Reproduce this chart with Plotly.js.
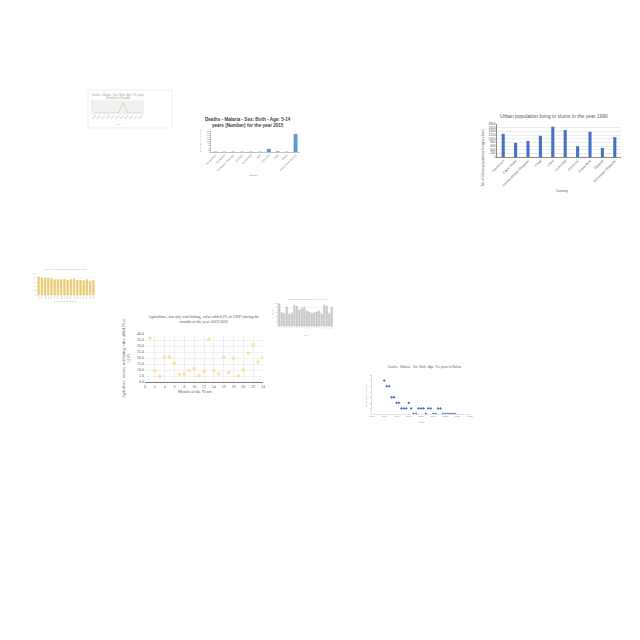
<!DOCTYPE html>
<html><head><meta charset="utf-8">
<script src="https://cdn.plot.ly/plotly-3.0.1.min.js"></script>
<style>html,body{margin:0;padding:0;background:#fff}#chart{width:640px;height:640px}</style>
</head><body><div id="chart"></div>
<script>
// ---- Chart A: small line chart (top-left)
const aYears = ['2008','2009','2010','2011','2012','2013','2014','2015','2016','2017','2018'];
const aDeaths = [0,0,0,0,0,0,4,0,0,0,0];
// ---- Chart B: Deaths - Malaria 5-14 years 2015
const bCountries = ['Bangladesh','Cambodia','Dominican Republic','Ecuador','Guatemala','Haiti','Indonesia','Laos','Nepal','Papua New Guinea'];
const bDeaths = [40, 15, 5, 2, 10, 30, 2800, 350, 20, 17000];
// ---- Chart C: Urban population living in slums 1990
const cCountries = ['Cameroon','Cape Verde','Central African Republic','Chad','Chile','Colombia','Comoros','Costa Rica','Djibouti','Dominican Republic'];
const cSlums = [1266, 771, 880, 1156, 1651, 1470, 589, 1376, 495, 1084];
// ---- Chart D: yellow bars (left)
const dYears = ['2001','2002','2003','2004','2005','2006','2007','2008','2009','2010','2011','2012','2013','2014','2015','2016','2017','2018'];
const dValues = [82, 78, 76, 77, 74, 70, 70, 69, 72, 68, 70, 73, 68, 67, 65, 70, 62, 66];
// ---- Chart E: grey bars (middle)
const eLabels = ['1','2','3','4','5','6','7','8','9','10','11','12','13','14','15','16','17','18','19','20','21','22'];
const eValues = [97, 57, 54, 83, 51, 54, 90, 86, 69, 76, 83, 66, 61, 54, 57, 61, 66, 51, 90, 86, 54, 83];
// ---- Chart F: Agriculture scatter
const fMonths = [1,2,3,4,5,6,7,8,9,10,11,12,13,14,15,16,17,18,19,20,21,22,23,24];
const fValues = [36.7, 9.5, 4.5, 21.0, 20.7, 15.7, 6.4, 6.7, 9.5, 11.2, 5.3, 8.7, 35.8, 9.5, 6.7, 20.7, 7.8, 19.6, 5.0, 10.1, 24.1, 31.1, 16.8, 20.4];
// ---- Chart G: Deaths - Malaria 70+ Bolivia
const gYears = [1990,1991,1992,1993,1994,1995,1996,1997,1998,1999,2000,2001,2002,2003,2004,2005,2006,2007,2008,2009,2010,2011,2012,2013,2014,2015,2016,2017,2018,2019];
const gDeaths = [6,5,5,3,3,2,2,1,1,1,2,1,0,0,1,1,1,0,1,1,0,0,1,1,0,0,0,0,0,0];

const W = 640, H = 640;
const dx = (a,b) => [a/W, b/W];
const dy = (t,b) => [1-b/H, 1-t/H];
const SANS = 'Liberation Sans, Arial, sans-serif';
const SERIF = 'Liberation Serif, Times New Roman, serif';
function ann(text, x, y, size, color, extra) {
  return Object.assign({text, x: x/W, y: 1-y/H, xref:'paper', yref:'paper', showarrow:false,
    xanchor:'center', yanchor:'middle', font:{size, color, family:SANS}}, extra||{});
}

const traces = [
  {type:'scatter', mode:'lines', x:aYears, y:aDeaths, xaxis:'x', yaxis:'y', line:{color:'#d6cba0', width:0.8}},
  {type:'bar', x:bCountries, y:bDeaths, xaxis:'x2', yaxis:'y2', width:0.38, marker:{color:'#5b9bd5', line:{color:'#2e75b6', width:0.3}}},
  {type:'bar', x:cCountries, y:cSlums, xaxis:'x3', yaxis:'y3', width:0.25, marker:{color:'#4472c4'}},
  {type:'bar', x:dYears, y:dValues, xaxis:'x4', yaxis:'y4', width:0.5, marker:{color:'#f2cf6a', line:{color:'#d4a93a', width:0.3}}},
  {type:'bar', x:eLabels, y:eValues, xaxis:'x5', yaxis:'y5', width:0.65, marker:{color:'#cfcfcf', line:{color:'#a8a8a8', width:0.3}}},
  {type:'scatter', mode:'markers', x:fMonths, y:fValues, xaxis:'x6', yaxis:'y6', marker:{symbol:'circle', size:2.8, color:'#ffe9a8', line:{color:'#ecc767', width:0.4}}},
  {type:'scatter', mode:'markers', x:gYears, y:gDeaths, xaxis:'x7', yaxis:'y7', marker:{symbol:'diamond', size:2.2, color:'#4472c4'}}
];

const tf = (size, color, family) => ({size, color, family: family||SANS});

const layout = {
  width:W, height:H, margin:{l:0,r:0,t:0,b:0}, showlegend:false,
  paper_bgcolor:'#ffffff', plot_bgcolor:'rgba(0,0,0,0)', bargap:0.3,
  font:{family:SANS},
  // A
  xaxis:{domain:dx(93,144), anchor:'y', type:'category', range:[-0.5,10.5], tickmode:'array', tickvals:aYears, tickangle:-45, tickfont:tf(2.3,'#aaa'), showgrid:false, showline:true, linecolor:'#d8d8d8', linewidth:0.5, zeroline:false},
  yaxis:{domain:dy(100,113), anchor:'x', range:[0,5], dtick:1, tickfont:tf(2.3,'#aaa'), showgrid:true, gridcolor:'#e6e6e6', gridwidth:0.4, showline:true, linecolor:'#d8d8d8', linewidth:0.5, zeroline:false},
  // B
  xaxis2:{domain:dx(211,300), anchor:'y2', type:'category', tickmode:'array', tickvals:bCountries, tickangle:-45, tickfont:tf(2.6,'#777'), showgrid:false, showline:true, linecolor:'#9a9a9a', linewidth:0.6, zeroline:false},
  yaxis2:{domain:dy(131,152), anchor:'x2', range:[0,20000], dtick:2000, tickfont:tf(2,'#777'), showgrid:false, showline:true, linecolor:'#9a9a9a', linewidth:0.6, zeroline:false},
  // C
  xaxis3:{domain:dx(497,621), anchor:'y3', type:'category', tickmode:'array', tickvals:cCountries, tickangle:-45, tickfont:tf(3.4,'#595959'), showgrid:false, showline:true, linecolor:'#595959', linewidth:0.7, zeroline:false},
  yaxis3:{domain:dy(124,157), anchor:'x3', range:[0,1800], dtick:200, tickfont:tf(3.2,'#595959'), showgrid:true, gridcolor:'#d9d9d9', gridwidth:0.5, showline:true, linecolor:'#595959', linewidth:0.7, zeroline:false},
  // D
  xaxis4:{domain:dx(37,95), anchor:'y4', type:'category', tickmode:'array', tickvals:dYears, tickangle:-90, tickfont:tf(1.4,'#bbb'), showgrid:false, showline:true, linecolor:'#ddd', linewidth:0.4, zeroline:false},
  yaxis4:{domain:dy(273,295), anchor:'x4', range:[0,100], dtick:20, tickfont:tf(2,'#aaa'), showgrid:true, gridcolor:'#eeeeee', gridwidth:0.4, showline:false, zeroline:false},
  // E
  xaxis5:{domain:dx(278,333), anchor:'y5', type:'category', tickmode:'array', tickvals:eLabels, tickangle:-90, tickfont:tf(1.6,'#aaa'), showgrid:false, showline:true, linecolor:'#ccc', linewidth:0.4, zeroline:false},
  yaxis5:{domain:dy(303,326), anchor:'x5', range:[0,100], dtick:20, tickfont:tf(1.8,'#aaa'), showgrid:true, gridcolor:'#eeeeee', gridwidth:0.4, showline:true, linecolor:'#ccc', linewidth:0.4, zeroline:false},
  // F
  xaxis6:{domain:dx(145,263), anchor:'y6', range:[0,24], dtick:2, tickfont:tf(4,'#595959',SERIF), showgrid:true, gridcolor:'#e3e3e3', gridwidth:0.5, showline:true, linecolor:'#595959', linewidth:0.8, zeroline:false},
  yaxis6:{domain:dy(334,382), anchor:'x6', range:[0,40], dtick:5, tickformat:'.1f', tickfont:tf(4,'#595959',SERIF), showgrid:true, gridcolor:'#e3e3e3', gridwidth:0.5, showline:false, zeroline:false},
  // G
  xaxis7:{domain:dx(372,470), anchor:'y7', range:[1985,2025], dtick:5, tickfont:tf(2.4,'#888'), showgrid:false, showline:true, linecolor:'#c8c8c8', linewidth:0.5, zeroline:false},
  yaxis7:{domain:dy(375,414), anchor:'x7', range:[0,7], dtick:1, tickfont:tf(2.4,'#888'), showgrid:false, showline:true, linecolor:'#c8c8c8', linewidth:0.5, zeroline:false},
  shapes:[
    {type:'rect', xref:'paper', yref:'paper', x0:88/W, x1:172/W, y0:1-128/H, y1:1-90/H, line:{color:'#e2e2e2', width:0.6}, fillcolor:'rgba(0,0,0,0)', layer:'below'},
    {type:'rect', xref:'x domain', yref:'y domain', x0:0, x1:1, y0:0, y1:1, line:{width:0}, fillcolor:'#f3f3f3', layer:'below'}
  ],
  annotations:[
    ann('Deaths - Malaria - Sex: Both - Age: 70+ years<br>(Number) in Ecuador', 118, 96, 2.6, '#9a9a9a'),
    ann('Year', 118, 124, 2.3, '#aaa'),
    ann('<b>Deaths - Malaria - Sex: Both - Age: 5-14<br>years (Number) for the year 2015</b>', 248, 122, 4.6, '#404040'),
    ann('No. of deaths (Number)', 200, 141, 2.3, '#777', {textangle:-90}),
    ann('Country', 253, 175, 2.4, '#777'),
    ann('Urban population living in slums in the year 1990', 554, 116, 5, '#595959'),
    ann('No of Urban population living in slums', 483, 158, 3.4, '#595959', {textangle:-90}),
    ann('Country', 562, 191, 3.4, '#595959'),
    ann('Yearly count of total births recorded in the region', 65, 269, 2, '#aaa'),
    ann('Years of the recorded period', 65, 301, 1.8, '#aaa'),
    ann('Number of registered visitors per day in the year', 308, 299, 1.9, '#aaa'),
    ann('No. of visitors', 272, 315, 1.8, '#aaa', {textangle:-90}),
    ann('Days', 306, 335, 1.8, '#aaa'),
    ann('Agriculture, forestry, and fishing, value added (% of GDP) during the<br>months of the year 2019-2020', 204, 319, 4, '#595959', {font:{size:4, color:'#595959', family:SERIF}}),
    ann('Agriculture, forestry, and fishing, value added (% of<br>GDP)', 126, 358, 3.8, '#595959', {textangle:-90, font:{size:3.8, color:'#595959', family:SERIF}}),
    ann('Month of the Years', 195, 391, 4.4, '#595959', {font:{size:4.4, color:'#595959', family:SERIF}}),
    ann('Deaths - Malaria - Sex: Both - Age: 70+ years in Bolivia', 425, 367, 3, '#666'),
    ann('No. of deaths (Number)', 366, 395, 2.3, '#888', {textangle:-90}),
    ann('Years', 421, 422, 2.3, '#888')
  ]
};

Plotly.newPlot('chart', traces, layout, {staticPlot:true, displayModeBar:false});
</script>
</body></html>
